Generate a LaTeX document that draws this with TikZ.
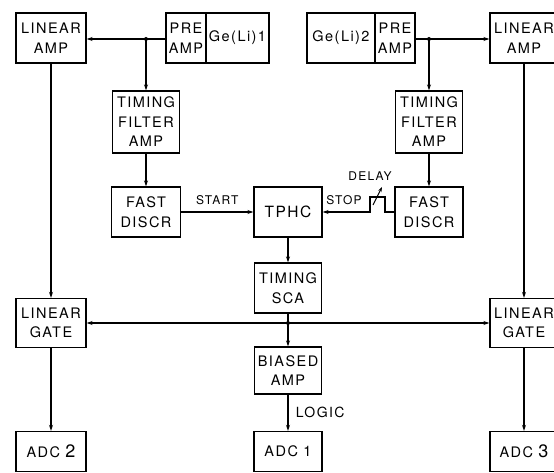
\documentclass[tikz,border=0pt]{standalone}
\usepackage{fontspec}
\setmainfont{TeX Gyre Heros}[LetterSpace=10]
\usetikzlibrary{arrows.meta}
\begin{document}
\begin{tikzpicture}[x=1pt,y=-1pt,
 box/.style={draw,line width=1.3pt,inner sep=0pt,align=center,font=\fontsize{14.5}{19.5}\selectfont},
 conn/.style={line width=1.1pt},
 arr/.style={conn,-{Stealth[length=6pt,width=4pt]}},
 lbl/.style={font=\fontsize{12}{14}\selectfont},
 dot/.style={circle,fill,inner sep=0pt,minimum size=4pt}]
\useasboundingbox (0,0) rectangle (554,473);
% top row
\node[box,minimum width=70pt,minimum height=50pt] (la1) at (51,38) {LINEAR\\AMP};
\node[box,minimum width=40pt,minimum height=50pt] (pre1) at (186,38) {PRE\\AMP};
\node[box,minimum width=63pt,minimum height=50pt] (ge1) at (237.5,38) {Ge(Li)1};
\node[box,minimum width=68pt,minimum height=50pt] (ge2) at (341,38) {Ge(Li)2};
\node[box,minimum width=40pt,minimum height=50pt] (pre2) at (395,38) {PRE\\AMP};
\node[box,minimum width=68pt,minimum height=50pt] (la2) at (524,38) {LINEAR\\AMP};
% timing filter amps
\node[box,minimum width=67pt,minimum height=62pt] (tfa1) at (146,122) {TIMING\\FILTER\\AMP};
\node[box,minimum width=67pt,minimum height=62pt] (tfa2) at (429,122) {TIMING\\FILTER\\AMP};
% discriminators and TPHC
\node[box,minimum width=69pt,minimum height=50pt] (fd1) at (146,212) {FAST\\DISCR};
\node[box,minimum width=68pt,minimum height=50pt,font=\fontsize{15.5}{19.5}\selectfont] (tphc) at (288,212) {TPHC};
\node[box,minimum width=68pt,minimum height=50pt] (fd2) at (429,212) {FAST\\DISCR};
% SCA, gates
\node[box,minimum width=67pt,minimum height=50pt] (sca) at (288,288) {TIMING\\SCA};
\node[box,minimum width=70pt,minimum height=49pt] (lg1) at (51,323) {LINEAR\\GATE};
\node[box,minimum width=68pt,minimum height=49pt] (lg2) at (524,323) {LINEAR\\GATE};
\node[box,minimum width=67pt,minimum height=47pt] (bias) at (288,370.5) {BIASED\\AMP};
% ADCs
\node[box,minimum width=70pt,minimum height=40pt] (adc2) at (51,451.5) {ADC {\fontsize{18}{19}\selectfont 2}};
\node[box,minimum width=68pt,minimum height=40pt] (adc1) at (288,451.5) {ADC 1};
\node[box,minimum width=68pt,minimum height=40pt] (adc3) at (524,451.5) {ADC {\fontsize{18}{19}\selectfont 3}};
% junctions
\coordinate (j1) at (146,39);
\coordinate (j2) at (429,39);
\coordinate (j3) at (288,323);
\node[dot] at (j1) {};
\node[dot] at (j2) {};
\node[dot] at (j3) {};
% preamp outputs
\draw[arr] (pre1.west |- j1) -- (la1.east |- j1);
\draw[arr] (j1) -- (tfa1.north);
\draw[arr] (pre2.east |- j2) -- (la2.west |- j2);
\draw[arr] (j2) -- (tfa2.north);
\draw[arr] (tfa1) -- (fd1);
\draw[arr] (tfa2) -- (fd2);
% start / stop
\draw[arr] (fd1.east) -- node[lbl,above=3pt] {START} (tphc.west);
\coordinate (p1) at (385,212);
\coordinate (p2) at (385,197);
\coordinate (p3) at (370,197);
\coordinate (p4) at (370,212);
\draw[arr] (fd2.west) -- (p1) -- (p2) -- (p3) -- (p4) -- (tphc.east);
\node[lbl] (stop) at (344,200) {STOP};
\coordinate (d1) at (373,205);
\coordinate (d2) at (382,187);
\draw[conn,-{Stealth[length=5pt,width=3.5pt]}] (d1) -- (d2);
\node[lbl] (delay) at (370,176) {DELAY};
% TPHC to SCA
\draw[arr] (tphc) -- (sca);
\draw[conn] (sca.south) -- (j3);
\draw[arr] (j3) -- (bias.north);
\draw[arr] (j3) -- (lg1.east);
\draw[arr] (j3) -- (lg2.west);
\draw[arr] (bias) -- node[right=4pt,font=\fontsize{14}{15}\selectfont] {LOGIC} (adc1);
% linear chains
\draw[arr] (la1) -- (lg1);
\draw[arr] (lg1) -- (adc2);
\draw[arr] (la2) -- (lg2);
\draw[arr] (lg2) -- (adc3);
\end{tikzpicture}
\end{document}
